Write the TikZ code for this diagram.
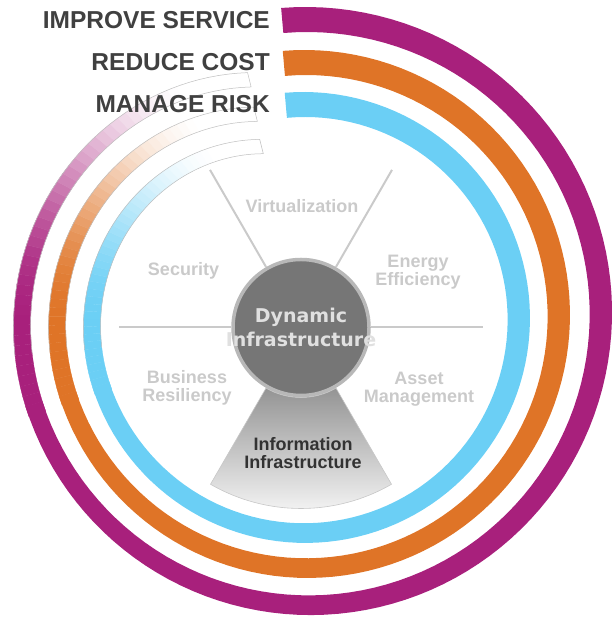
\documentclass[tikz,border=0pt]{standalone}
\usepackage{fontspec}
\setmainfont{Liberation Sans}
\newfontfamily\hubfont{DejaVu Sans}
\usetikzlibrary{calc}
\definecolor{ringPurple}{HTML}{A8207C}
\definecolor{ringOrange}{HTML}{DF7427}
\definecolor{ringBlue}{HTML}{6BCFF5}
\definecolor{goalGrey}{HTML}{404040}
\definecolor{hubGrey}{HTML}{767676}
\definecolor{hubRim}{HTML}{B8B8B8}
\definecolor{faintGrey}{HTML}{CACACA}

\tikzset{
  goal/.style={anchor=base east,inner sep=0pt,text=goalGrey,
               font=\fontsize{24.5}{29}\selectfont\bfseries},
  seglabel/.style={align=center,text=faintGrey,
                   font=\fontsize{18}{18}\selectfont\bfseries},
  spoke/.style={draw=faintGrey,line width=2pt},
  hubdisc/.style={circle,fill=hubGrey,draw=hubRim,line width=3.5pt,
                  minimum size=136pt,inner sep=0pt},
}

% one goal ring: colour, centre x, centre y, start radius, shrink, tail dive
\newcommand{\ringband}[6]{%
  \begin{scope}[shift={(#2,#3)},
      declare function={ro(\t)=#4-#5*\t-#6*(max(\t-250,0)/96)^2;
                        ri(\t)=ro(\t)-25+0.0296*\t;}]
    \fill[#1] plot[domain=-5:252,samples=100] ({ro(\x)*cos(90-\x)},{ro(\x)*sin(90-\x)})
      -- plot[domain=252:-5,samples=100] ({ri(\x)*cos(90-\x)},{ri(\x)*sin(90-\x)}) -- cycle;
    \foreach \a in {250,252,...,344}{
      \pgfmathsetmacro\fadeS{min(max((\a-268)/65,0),1)}
      \pgfmathtruncatemacro\fadeP{100*(1-3*\fadeS*\fadeS+2*\fadeS*\fadeS*\fadeS)}
      \filldraw[#1!\fadeP!white,line width=0.3pt]
        ({ro(\a)*cos(90-\a)},{ro(\a)*sin(90-\a)})
        -- ({ro(\a+2)*cos(88-\a)},{ro(\a+2)*sin(88-\a)})
        -- ({ri(\a+2)*cos(88-\a)},{ri(\a+2)*sin(88-\a)})
        -- ({ri(\a)*cos(90-\a)},{ri(\a)*sin(90-\a)}) -- cycle;
    }
    \draw[black!25,line width=0.5pt]
      plot[domain=262:346,samples=40] ({ro(\x)*cos(90-\x)},{ro(\x)*sin(90-\x)})
      -- plot[domain=346:262,samples=40] ({ri(\x)*cos(90-\x)},{ri(\x)*sin(90-\x)});
  \end{scope}}

\begin{document}
\begin{tikzpicture}[x=1pt,y=1pt]
  \useasboundingbox (0,0) rectangle (612,617);

  % goal rings
  \ringband{ringPurple}{308}{302}{308}{0.044}{43}
  \ringband{ringOrange}{306}{300.5}{266.5}{0.028}{41}
  \ringband{ringBlue}{304.5}{298}{227}{0.017}{36}

  % lower sector
  \coordinate (c) at (301,289.5);
  \path[top color=black!42,middle color=black!18,bottom color=black!3,
        draw=black!22,line width=0.6pt]
    ($(c)+(240:70)$) -- ($(c)+(240:181)$) arc[start angle=240,end angle=300,radius=181]
    -- ($(c)+(300:70)$) arc[start angle=300,end angle=240,radius=70] -- cycle;

  % hub and spokes
  \node[hubdisc] (hub) at (c) {};
  \foreach \a in {0,60,120,180}
    \draw[spoke] (hub.\a) -- ($(hub.center)+(\a:182)$);
  \node[font=\hubfont\fontsize{19}{24}\selectfont\bfseries,text=white!88!black,
        align=center] (hubtext) at (c) {Dynamic\\Infrastructure};

  % segment labels
  \node[seglabel] (virt) at (302,410.5) {Virtualization};
  \node[seglabel] (secu) at (183.5,346) {Security};
  \node[seglabel] (ener) at (418,345) {Energy\\Efficiency};
  \node[seglabel] (busi) at (187,229.5) {Business\\Resiliency};
  \node[seglabel] (asse) at (419,227.5) {Asset\\Management};
  \node[seglabel,text=black!80] (info) at (303,164) {Information\\Infrastructure};

  % goals
  \node[goal] (service) at (270,588.7) {IMPROVE SERVICE};
  \node[goal] (cost) at (270,546.3) {REDUCE COST};
  \node[goal] (risk) at (270,504.7) {MANAGE RISK};
\end{tikzpicture}
\end{document}
